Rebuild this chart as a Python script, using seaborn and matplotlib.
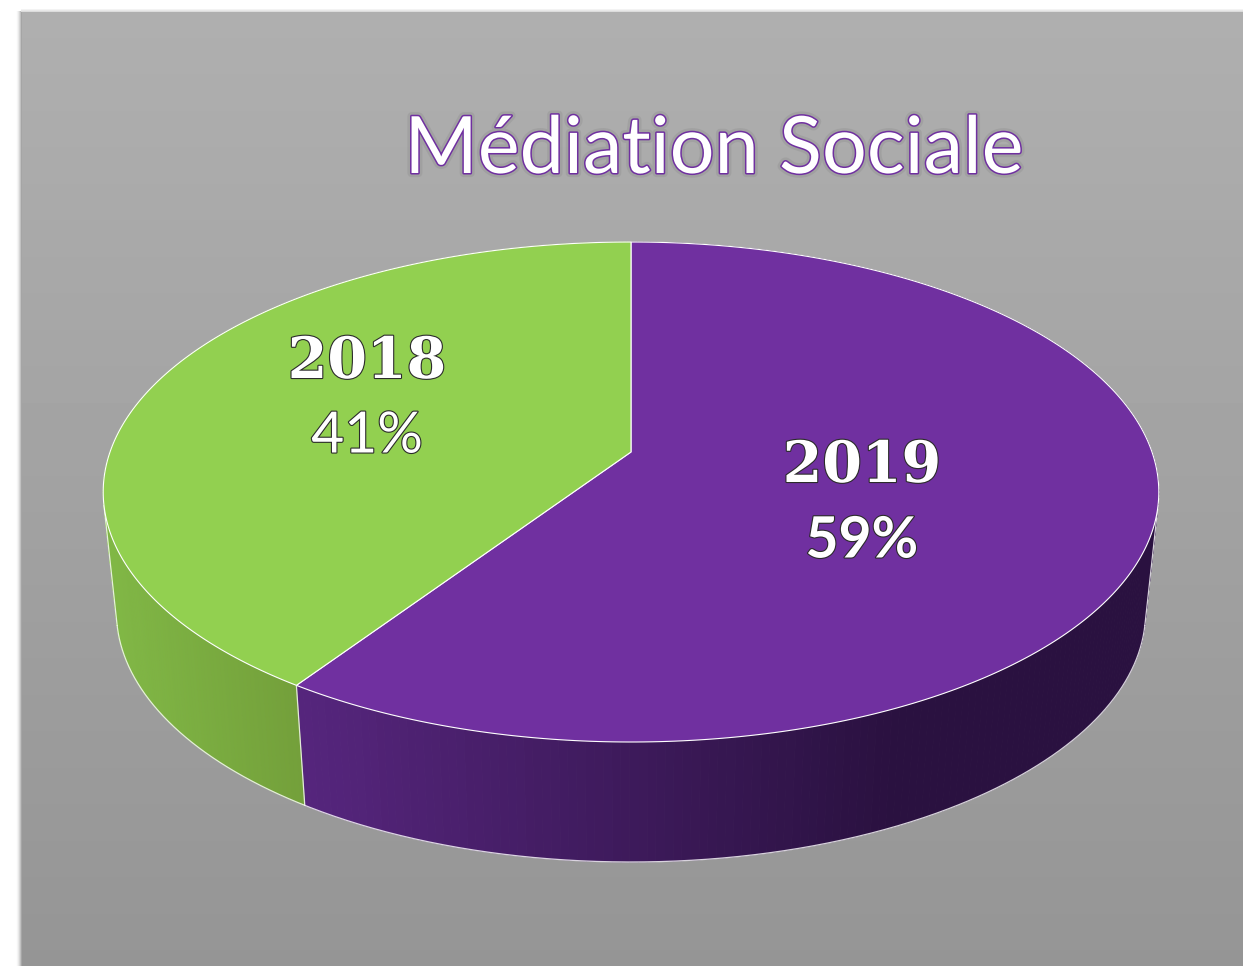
import numpy as np
import matplotlib
matplotlib.use("Agg")
import matplotlib.pyplot as plt
import matplotlib.patheffects as pe
import seaborn as sns

# Data
categories = ["2019", "2018"]
values = [59.4, 40.6]
title_text = "Médiation Sociale"

# Style
top_colors = ["#7030A0", "#92D050"]
side_ramps = [["#55257C", "#2A1140"], ["#739F3A", "#80B745"]]
ramp_spans = [(305, 890), (305, 116)]
label_pos = [(862, 466, 541), (367, 362, 437)]
pct_weight = ["bold", "normal"]

sns.set_theme(style="white")
W, H = 1243, 966
fig = plt.figure(figsize=(W / 100, H / 100), dpi=100)
ax = fig.add_axes([0, 0, 1, 1])
ax.set_xlim(0, W)
ax.set_ylim(H, 0)
ax.axis("off")

# Background panel with soft shadow
px, py = 22, 12
bg = np.full((H, W), 255.0)
for i in range(6):
    shade = 255 - (255 - 165) * ((i + 1) / 6) ** 2
    bg[py - 1:, px - 6 + i] = shade
for i in range(3):
    bg[py - 3 + i, px - 1:] = 255 - 35 * (i + 1) / 3
bg[py:, px:] = np.linspace(175, 149, H - py)[:, None]
ax.imshow(bg, cmap="gray", vmin=0, vmax=255, extent=(0, W, H, 0),
          aspect="auto", interpolation="nearest", zorder=0)

# Perspective projection of the disc
CX, CY, K, B, A = 631.0, 452.0, 0.16, 243.6, 521.0
DEPTH, SHRINK = 120.0, 0.975


def rim(t):
    u, v = np.sin(t), np.cos(t)
    d = 1 + K * v
    return CX + A * u / d, CY - B * v / d


def lower(x, y):
    return CX + SHRINK * (x - CX), y + DEPTH


fracs = np.array(values) / np.sum(values)
edges = np.concatenate([[0], np.cumsum(fracs)]) * 2 * np.pi

# Side walls
for k in range(len(values)):
    n = 260
    ts = np.linspace(edges[k], edges[k + 1], n + 1)
    x, y = rim(ts)
    xl, yl = lower(x, y)
    pal = sns.blend_palette(side_ramps[k], 80)
    x0, x1 = ramp_spans[k]
    for i in range(n):
        xm = 0.5 * (x[i] + x[i + 1])
        f = np.clip((xm - x0) / (x1 - x0), 0, 1)
        col = pal[int(f * 79)]
        ax.fill([x[i], x[i + 1], xl[i + 1], xl[i]],
                [y[i], y[i + 1], yl[i + 1], yl[i]],
                color=col, lw=0.6, zorder=2)

# Outlines of the wall: silhouette tangents, lower rim, slice boundary
line_kw = dict(color="white", alpha=0.8, lw=0.9, zorder=3)
tt = np.linspace(0, 2 * np.pi, 1441)
xt, yt = rim(tt)
xb, yb = lower(xt, yt)
dx, dy = np.gradient(xt), np.gradient(yt)
cross = np.abs((xb - xt) * dy - (yb - yt) * dx) / np.hypot(dx, dy)
front = yt > 470
tangents = []
for half in (tt < np.pi, tt > np.pi):
    idx = np.where(half & front)[0]
    j = idx[np.argmin(cross[idx])]
    tangents.append(j)
    ax.plot([xt[j], xb[j]], [yt[j], yb[j]], **line_kw)
ax.plot(xb[tangents[0]:tangents[1] + 1], yb[tangents[0]:tangents[1] + 1], **line_kw)
bx, by = rim(edges[1])
bx2, by2 = lower(bx, by)
ax.plot([bx, bx2], [by, by2], **line_kw)

# Top faces
for k in range(len(values)):
    ts = np.linspace(edges[k], edges[k + 1], 300)
    x, y = rim(ts)
    ax.fill(np.r_[CX, x], np.r_[CY, y], facecolor=top_colors[k],
            edgecolor="white", lw=0.8, zorder=4)

# Title
ax.text(714, 173, title_text, family="Lato", fontsize=57, color="white",
        ha="center", va="baseline", zorder=6,
        path_effects=[pe.withStroke(linewidth=6, foreground="#8E8E8E", alpha=0.35),
                      pe.withStroke(linewidth=2.2, foreground="#7030A0")])

# Labels
outline = [pe.withStroke(linewidth=1.6, foreground="#2B2B2B")]
for k, cat in enumerate(categories):
    lx, y1, y2 = label_pos[k]
    ax.text(lx, y1, cat, family="DejaVu Serif", fontweight="bold", fontsize=41,
            color="white", ha="center", va="center", zorder=6, path_effects=outline)
    ax.text(lx, y2, f"{round(values[k])}%", family="Lato", fontweight=pct_weight[k],
            fontsize=41, color="white", ha="center", va="center", zorder=6,
            path_effects=outline)

fig.savefig("out.png", dpi=100)
